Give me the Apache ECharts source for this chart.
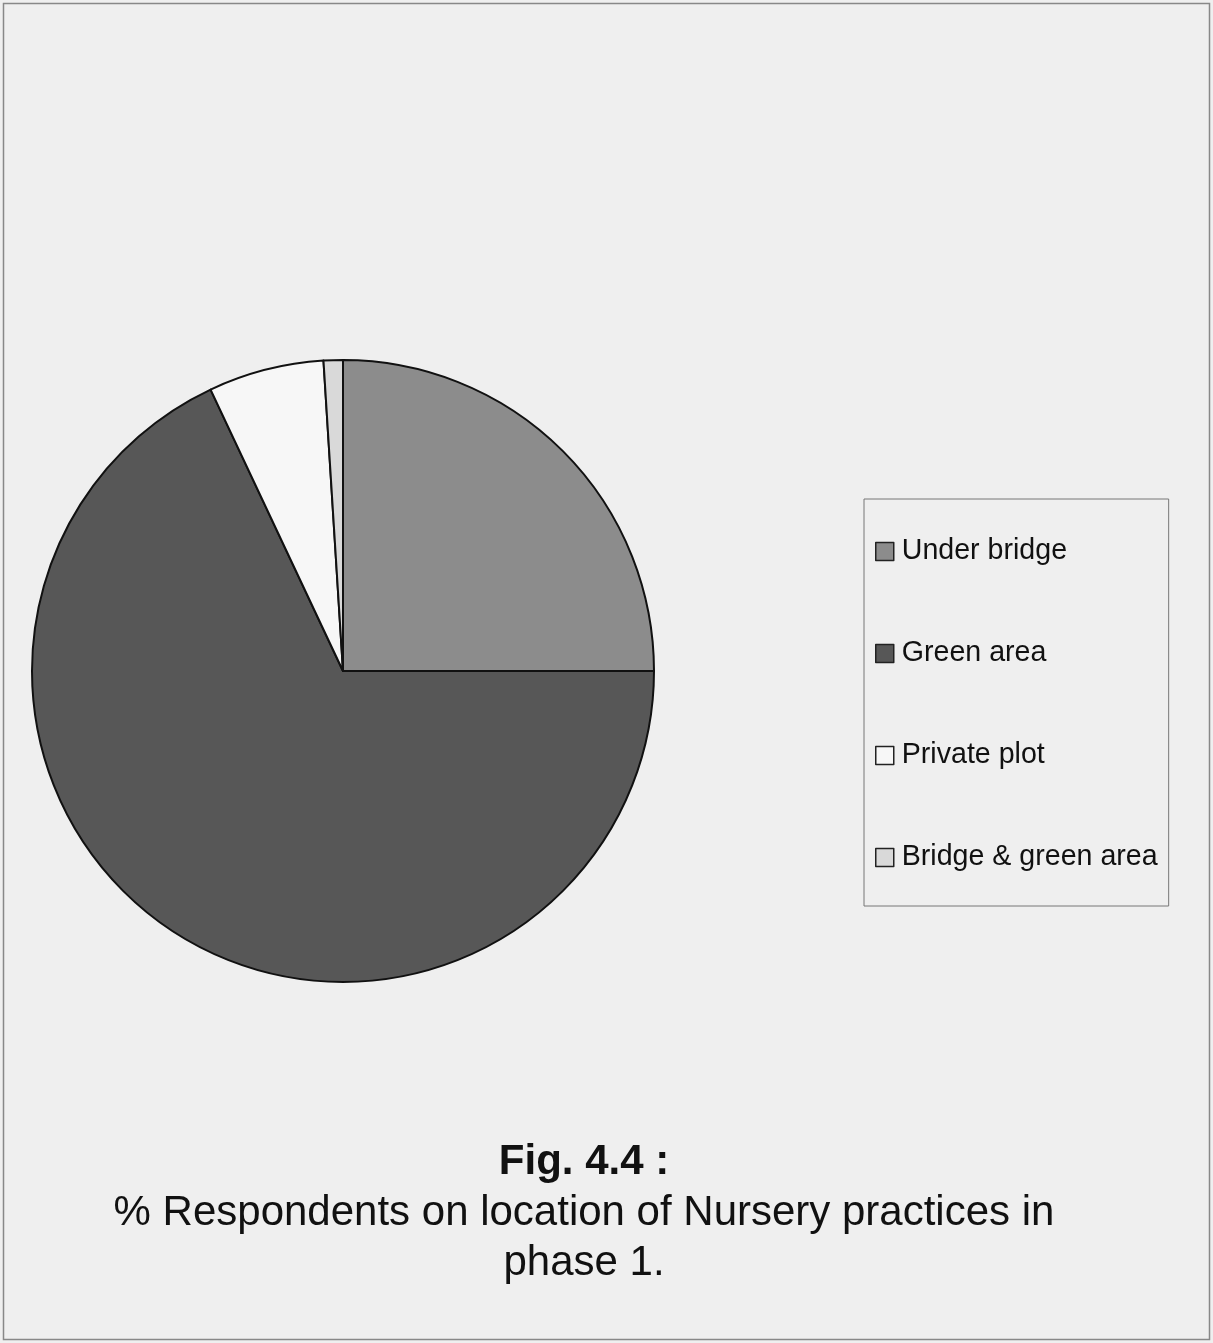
<!DOCTYPE html>
<html>
<head>
<meta charset="utf-8">
<script src="https://cdn.jsdelivr.net/npm/echarts@6/dist/echarts.min.js"></script>
<style>
  html, body { margin: 0; padding: 0; background: #efefef; }
  #main { width: 1213px; height: 1343px; }
</style>
</head>
<body>
<div id="main"></div>
<script>
// location categories and % respondents
const categories = ['Under bridge', 'Green area', 'Private plot', 'Bridge & green area'];
const percents = [25, 68, 6, 1];
const sliceColors = ['#8c8c8c', '#575757', '#f7f7f7', '#d9d9d9'];

const figTitle = 'Fig. 4.4 :';
const figCaption = '% Respondents on location of Nursery practices in\nphase 1.';

let chart = echarts.init(document.getElementById('main'));

const pieData = categories.map((name, i) => ({
    name: name,
    value: percents[i],
    itemStyle: { color: sliceColors[i] }
}));

chart.setOption({
    backgroundColor: '#efefef',
    animation: false,
    legend: {
        orient: 'vertical',
        left: 864,
        top: 499,
        padding: [38, 11, 34, 11],
        itemGap: 73,
        itemWidth: 18,
        itemHeight: 18,
        icon: 'rect',
        borderColor: '#777',
        borderWidth: 1,
        selectedMode: false,
        itemStyle: { borderColor: '#222', borderWidth: 1.5 },
        textStyle: {
            fontFamily: 'Liberation Sans, Arial',
            fontSize: 28.6,
            lineHeight: 28,
            color: '#111',
            padding: [0, 0, 0, 3]
        },
        data: categories
    },
    graphic: [
        {
            type: 'rect',
            shape: { x: 3.5, y: 3.5, width: 1206, height: 1336 },
            style: { fill: 'none', stroke: '#888', lineWidth: 1.5 },
            silent: true
        },
        {
            type: 'text',
            x: 584, y: 1162,
            style: {
                text: figTitle,
                textAlign: 'center', textVerticalAlign: 'middle',
                font: 'bold 42px "Liberation Sans", Arial',
                fill: '#111'
            }
        },
        {
            type: 'text',
            x: 584, y: 1188,
            style: {
                text: figCaption,
                textAlign: 'center', textVerticalAlign: 'top',
                font: '42px "Liberation Sans", Arial',
                lineHeight: 50,
                fill: '#111'
            }
        }
    ],
    series: [
        {
            type: 'pie',
            center: [343, 671],
            radius: 311,
            startAngle: 90,
            clockwise: true,
            label: { show: false },
            labelLine: { show: false },
            emphasis: { disabled: true },
            itemStyle: { borderColor: '#111', borderWidth: 2 },
            data: pieData
        }
    ]
});
</script>
</body>
</html>
